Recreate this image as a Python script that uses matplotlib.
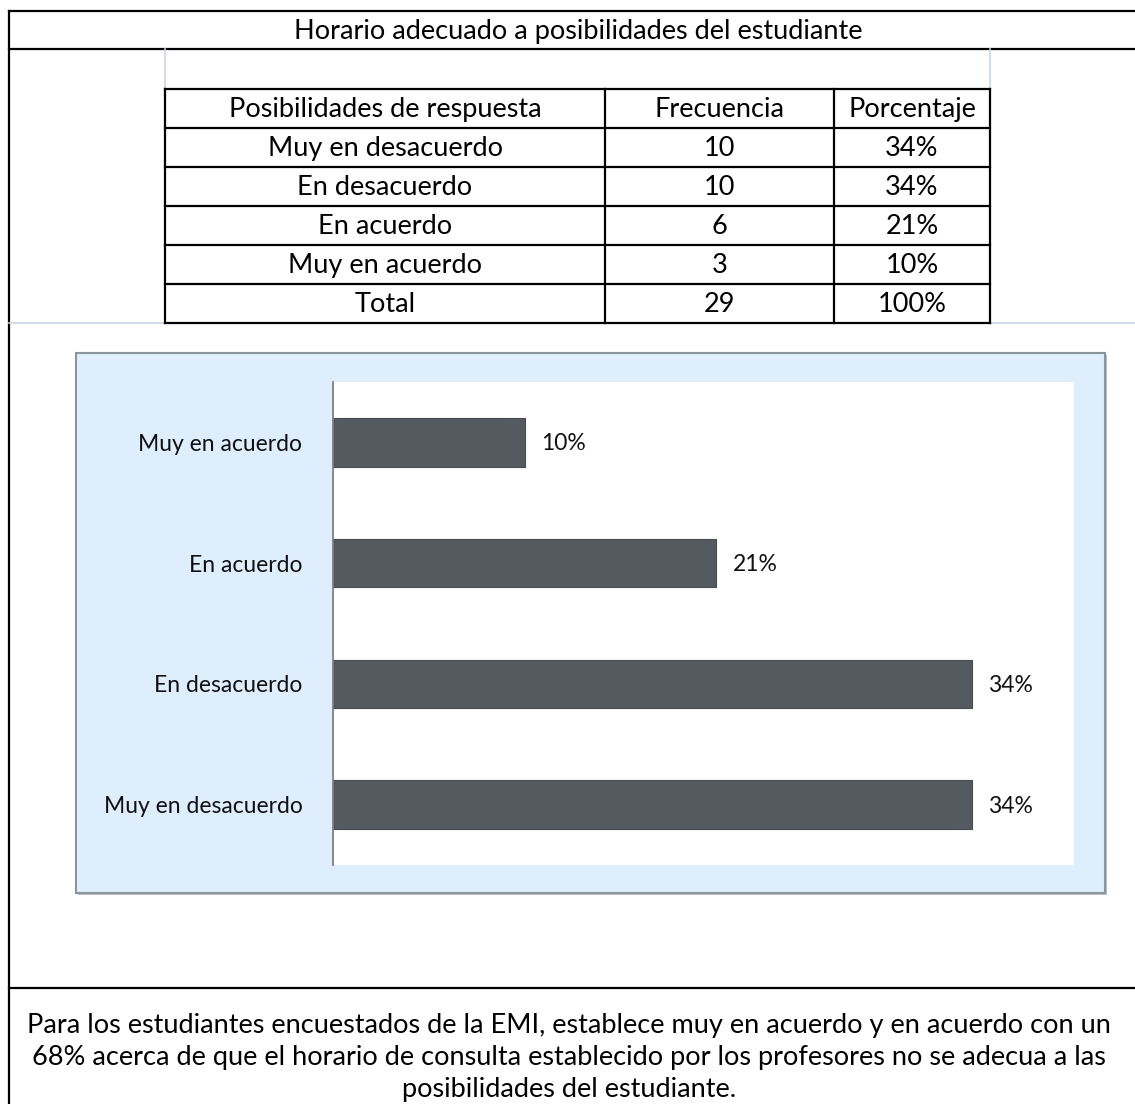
import matplotlib
matplotlib.use("Agg")
import matplotlib.pyplot as plt
from matplotlib.patches import Rectangle
from matplotlib.lines import Line2D

# ---------------- data ----------------
title = "Horario adecuado a posibilidades del estudiante"
table_header = ["Posibilidades de respuesta", "Frecuencia", "Porcentaje"]
categories = ["Muy en desacuerdo", "En desacuerdo", "En acuerdo", "Muy en acuerdo"]
frequencies = [10, 10, 6, 3]
percent_labels = ["34%", "34%", "21%", "10%"]
total_label = "Total"
total_freq = 29
total_pct = "100%"
footer_lines = [
    "Para los estudiantes encuestados de la EMI, establece muy en acuerdo y en acuerdo con un",
    "68% acerca de que el horario de consulta establecido por los profesores no se adecua a las",
    "posibilidades del estudiante.",
]

W, H = 1135, 1104
fig = plt.figure(figsize=(W / 100, H / 100), dpi=100)
fig.patch.set_facecolor("white")

# overlay axes in pixel coordinates
ov = fig.add_axes([0, 0, 1, 1])
ov.set_xlim(0, W)
ov.set_ylim(H, 0)
ov.axis("off")

FONT = "Lato"
black = "#000000"
TXT = 19.5

# outer frame lines
for y in (11, 49, 988):
    ov.add_line(Line2D([9, W], [y, y], color=black, lw=1.6))
ov.add_line(Line2D([9, 9], [11, H], color=black, lw=1.6))
# light blue guide lines
lb = "#C6D6E6"
ov.add_line(Line2D([9, W], [323, 323], color=lb, lw=1.2))
ov.add_line(Line2D([165, 165], [49, 89], color=lb, lw=1.2))
ov.add_line(Line2D([990, 990], [49, 89], color=lb, lw=1.2))

# title
ov.text(578, 31, title, ha="center", va="center", fontsize=TXT, family=FONT, color=black)

# table
col_edges = [165, 605, 834, 990]
row_top = 89
row_h = 39
rows = [table_header]
for c, f, p in zip(categories, frequencies, percent_labels):
    rows.append([c, str(f), p])
rows.append([total_label, str(total_freq), total_pct])
n = len(rows)
for i in range(n + 1):
    y = row_top + i * row_h
    ov.add_line(Line2D([col_edges[0], col_edges[-1]], [y, y], color=black, lw=1.6))
for x in col_edges:
    ov.add_line(Line2D([x, x], [row_top, row_top + n * row_h], color=black, lw=1.6))
for i, r in enumerate(rows):
    yc = row_top + (i + 0.5) * row_h
    for j, txt in enumerate(r):
        xc = (col_edges[j] + col_edges[j + 1]) / 2
        ov.text(xc, yc + 1, txt, ha="center", va="center", fontsize=TXT, family=FONT, color=black)

# chart background box
box_l, box_t, box_r, box_b = 76, 353, 1105, 893
ov.add_patch(Rectangle((box_l + 2, box_t + 2), box_r - box_l, box_b - box_t,
                       facecolor="#B8BEC4", edgecolor="none", zorder=1))
ov.add_patch(Rectangle((box_l, box_t), box_r - box_l, box_b - box_t,
                       facecolor="#DFEEFC", edgecolor="#8C949C", lw=1.5, zorder=2))

# footer
for y, line in zip((1025, 1058, 1089), footer_lines):
    ov.text(569, y, line, ha="center", va="center", fontsize=TXT, family=FONT, color=black)

# bar chart axes
pl, pt, pr, pb = 333, 382, 1074, 865
ax = fig.add_axes([pl / W, (H - pb) / H, (pr - pl) / W, (pb - pt) / H])
ax.set_facecolor("white")
ax.set_zorder(3)
pcts = [f / total_freq for f in frequencies]
ypos = list(range(len(categories)))
ax.barh(ypos, pcts, height=0.4, color="#545A60", edgecolor="#464B50", linewidth=0.8)
ax.set_xlim(0, 0.40)
ax.set_ylim(-0.5, len(categories) - 0.5)
ax.set_yticks(ypos)
ax.set_yticklabels(categories, fontsize=16.5, family=FONT, color="#111111")
ax.tick_params(axis="y", length=0, pad=22)
ax.set_xticks([])
for s in ("top", "right", "bottom"):
    ax.spines[s].set_visible(False)
ax.spines["left"].set_color("#7F7F7F")
ax.spines["left"].set_linewidth(1.3)
for y, v, lab in zip(ypos, pcts, percent_labels):
    ax.annotate(lab, (v, y), xytext=(12, -1), textcoords="offset points",
                ha="left", va="center", fontsize=16.5, family=FONT, color="#111111")

fig.savefig("out.png", dpi=100, facecolor="white")
